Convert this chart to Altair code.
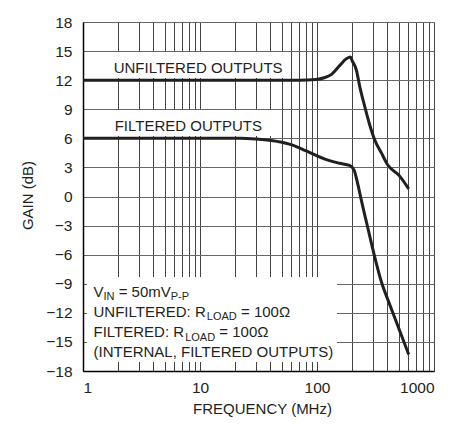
import altair as alt
import pandas as pd

# ---- data ----
freq_unf = [1, 10, 50, 71, 98, 115, 133, 156, 178, 193, 200, 217, 232, 256, 282, 311, 355, 400, 509, 608]
gain_unf = [12, 12, 12, 12, 12.07, 12.25, 12.6, 13.5, 14.2, 14.4, 14.0, 13.05, 11.33, 9.27, 7.4, 5.85, 4.5, 3.3, 2.1, 0.79]

freq_fil = [1, 10, 21.8, 30, 40.7, 58, 80, 100, 128, 156, 190, 207, 224, 239, 269, 308, 355, 417, 509, 608]
gain_fil = [6, 6, 6.0, 5.93, 5.77, 5.4, 4.73, 4.2, 3.7, 3.43, 3.2, 2.75, 1.2, -0.35, -3.0, -6.0, -8.8, -11.1, -13.85, -16.3]

x_grid = [1, 2, 3, 4, 5, 6, 7, 8, 9, 10, 20, 30, 40, 50, 60, 70, 80, 90,
          100, 200, 300, 400, 500, 600, 700, 800, 900, 1000]
y_ticks = [-18, -15, -12, -9, -6, -3, 0, 3, 6, 9, 12, 15, 18]

FONT = "Liberation Sans, Arial, sans-serif"
INK = "#231f20"

# Arial / Liberation Sans advance widths (em) for laying out text pieces
AW = {"A": .667, "B": .667, "C": .722, "D": .722, "E": .667, "F": .611, "I": .278, "L": .556,
      "M": .833, "N": .722, "O": .778, "P": .667, "R": .722, "S": .667, "T": .611, "U": .722,
      "V": .667, "m": .833, "0": .556, "1": .556, "5": .556, "=": .584, " ": .278,
      ":": .278, "-": .333, "\u03a9": .768, ",": .278, "(": .333, ")": .333}
SPACE = .278

def width(s, size):
    return sum(AW.get(c, .6) for c in s) * size

df = pd.concat([
    pd.DataFrame({"f": freq_unf, "g": gain_unf, "s": "unf"}),
    pd.DataFrame({"f": freq_fil, "g": gain_fil, "s": "fil"}),
])

W, H = 351, 349

x_enc = alt.X("f:Q", scale=alt.Scale(type="log", domain=[1, 1000], nice=False),
              axis=alt.Axis(values=x_grid, grid=True, gridColor="#444", gridWidth=1,
                            ticks=False, labelPadding=9, labelFontSize=15.5, labelFont=FONT,
                            labelColor=INK, labelOverlap=False,
                            labelExpr="(datum.value==1||datum.value==10||datum.value==100||datum.value==1000) ? format(datum.value,'d') : ''",
                            title="FREQUENCY (MHz)", titleFont=FONT, titleFontSize=15,
                            titleFontWeight="normal", titleColor=INK,
                            titleX=179, titleY=37, titleBaseline="middle",
                            domainColor="black", domainWidth=1.5))
y_enc = alt.Y("g:Q", scale=alt.Scale(domain=[-18, 18], nice=False),
              axis=alt.Axis(values=y_ticks, grid=True, gridColor="#666", gridWidth=1,
                            ticks=False, labelPadding=11, labelFontSize=15.5, labelFont=FONT,
                            labelColor=INK, labelOverlap=False,
                            labelExpr="replace(format(datum.value,'d'), '-', '\u2212')",
                            title="GAIN (dB)", titleFont=FONT, titleFontSize=15,
                            titleFontWeight="normal", titleColor=INK,
                            titleX=-56, titleY=173, titleBaseline="middle",
                            domainColor="black", domainWidth=1.5))

one = pd.DataFrame({"k": [0]})

def box(x1, x2, y1, y2):
    return alt.Chart(one).mark_rect(color="white").encode(
        x=alt.value(x1), x2=alt.value(x2), y=alt.value(y1), y2=alt.value(y2))

def txt(s, x, y, size=15):
    return alt.Chart(one).mark_text(align="left", baseline="alphabetic", font=FONT,
                                    fontSize=size, color=INK, text=s).encode(
        x=alt.value(x), y=alt.value(y))

MAIN, SUB, DROP = 15, 11, 3.5

def rich(pieces, x0, y):
    """pieces: list of (text, is_subscript, leading_space)"""
    out, x = [], x0
    for s, sub, lead in pieces:
        size = SUB if sub else MAIN
        if lead:
            x += SPACE * MAIN
        out.append(txt(s, x, y + (DROP if sub else 0), size))
        x += width(s, size)
    return out

legend_lines = [
    [("V", False, False), ("IN", True, False), ("= 50mV", False, True), ("P-P", True, False)],
    [("UNFILTERED: R", False, False), ("LOAD", True, False), ("= 100\u03a9", False, True)],
    [("FILTERED: R", False, False), ("LOAD", True, False), ("= 100\u03a9", False, True)],
    [("(INTERNAL, FILTERED OUTPUTS)", False, False)],
]
legend_baselines = [274.7, 294.9, 315.3, 335.3]

layers = [
    box(2, 206, 30, 56),
    box(2, 188, 88, 114),
    box(4, 254, 255, 340),
    alt.Chart(df).mark_line(color=INK, strokeWidth=3, interpolate="monotone").encode(
        x=x_enc, y=y_enc, detail="s:N"),
    txt("UNFILTERED OUTPUTS", 30.7, 50.5),
    txt("FILTERED OUTPUTS", 31.7, 108.8),
]
for pieces, yb in zip(legend_lines, legend_baselines):
    layers += rich(pieces, 10.5, yb)

chart = alt.layer(*layers).properties(
    width=W, height=H,
    autosize=alt.AutoSizeParams(type="none"),
    padding={"left": 75, "top": 14, "right": 26, "bottom": 47},
).configure_view(stroke="black", strokeWidth=1.5).configure(background="white")

chart.save("out.html", embed_options={"renderer": "svg", "actions": False})
